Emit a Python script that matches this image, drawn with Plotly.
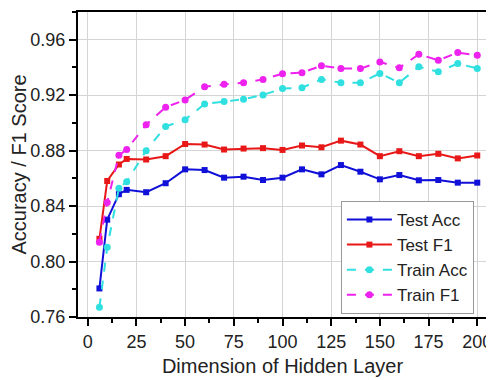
import plotly.graph_objects as go

dims = [6, 10, 16, 20, 30, 40, 50, 60, 70, 80, 90, 100, 110, 120, 130, 140, 150, 160, 170, 180, 190, 200]

test_acc = [0.7806, 0.8302, 0.8486, 0.8517, 0.8500, 0.8565, 0.8665, 0.8660, 0.8605, 0.8612, 0.8588, 0.8605,
            0.8665, 0.8629, 0.8696, 0.8648, 0.8593, 0.8624, 0.8586, 0.8588, 0.8569, 0.8569]
test_f1 = [0.8164, 0.8581, 0.8700, 0.8740, 0.8736, 0.8760, 0.8848, 0.8844, 0.8808, 0.8815, 0.8818, 0.8805,
           0.8837, 0.8824, 0.8872, 0.8844, 0.8760, 0.8796, 0.8760, 0.8777, 0.8744, 0.8765]
train_acc = [0.7670, 0.8103, 0.8529, 0.8576, 0.8800, 0.8975, 0.9023, 0.9137, 0.9154, 0.9170, 0.9202, 0.9248,
             0.9254, 0.9314, 0.9290, 0.9290, 0.9357, 0.9290, 0.9405, 0.9369, 0.9428, 0.9393]
train_f1 = [0.8140, 0.8426, 0.8767, 0.8808, 0.8987, 0.9113, 0.9166, 0.9261, 0.9278, 0.9290, 0.9314, 0.9355,
            0.9362, 0.9412, 0.9392, 0.9392, 0.9440, 0.9397, 0.9495, 0.9452, 0.9507, 0.9488]

x_ticks = [0, 25, 50, 75, 100, 125, 150, 175, 200]
y_ticks = [0.76, 0.80, 0.84, 0.88, 0.92, 0.96]
y_tick_labels = ["0.76", "0.80", "0.84", "0.88", "0.92", "0.96"]

series = [
    ("Test Acc", test_acc, "#1010D8", "solid", "square", 6),
    ("Test F1", test_f1, "#E81818", "solid", "square", 6),
    ("Train Acc", train_acc, "#30E0E0", "dash", "circle", 7),
    ("Train F1", train_f1, "#EE22EE", "dash", "circle", 7),
]

fig = go.Figure()
for name, ys, color, dash, sym, size in series:
    fig.add_trace(go.Scatter(
        x=dims, y=ys, name=name, mode="lines+markers",
        line=dict(color=color, width=2, dash=dash),
        marker=dict(symbol=sym, size=size, color=color),
    ))

# the page body adds an 8px offset, so the figure is 8px smaller and margins shifted
font = "Liberation Sans, Arial, sans-serif"
fig.update_layout(
    width=486, height=372,
    margin=dict(l=70, r=4, t=2, b=63),
    paper_bgcolor="white", plot_bgcolor="white",
    font=dict(family=font, size=18, color="#222"),
    showlegend=True,
    legend=dict(
        x=0.968, y=0.01, xanchor="right", yanchor="bottom",
        bgcolor="white", bordercolor="#999", borderwidth=1,
        font=dict(size=17, color="#222"), itemwidth=45,
        tracegroupgap=0,
    ),
    xaxis=dict(
        range=[-5, 205], tickmode="array", tickvals=x_ticks,
        showgrid=True, gridcolor="#d4d4d4", gridwidth=1,
        showline=True, linecolor="black", linewidth=2, mirror=True,
        ticks="outside", ticklen=7, tickwidth=1.5, tickcolor="black",
        minor=dict(dtick=12.5, tick0=0, ticks="outside", ticklen=4, tickcolor="black", showgrid=False),
        zeroline=False, ticklabeloverflow="allow",
        title=dict(text="Dimension of Hidden Layer", font=dict(size=20), standoff=8),
        tickfont=dict(size=18),
    ),
    yaxis=dict(
        range=[0.76, 0.98], tickmode="array", tickvals=y_ticks, ticktext=y_tick_labels,
        showgrid=True, gridcolor="#d4d4d4", gridwidth=1,
        showline=True, linecolor="black", linewidth=2, mirror=True,
        ticks="outside", ticklen=7, tickwidth=1.5, tickcolor="black",
        minor=dict(dtick=0.02, tick0=0.76, ticks="outside", ticklen=4, tickcolor="black", showgrid=False),
        zeroline=False,
        title=dict(text="Accuracy / F1 Score", font=dict(size=20), standoff=0),
        tickfont=dict(size=18),
    ),
)

fig.write_html("out.html")
